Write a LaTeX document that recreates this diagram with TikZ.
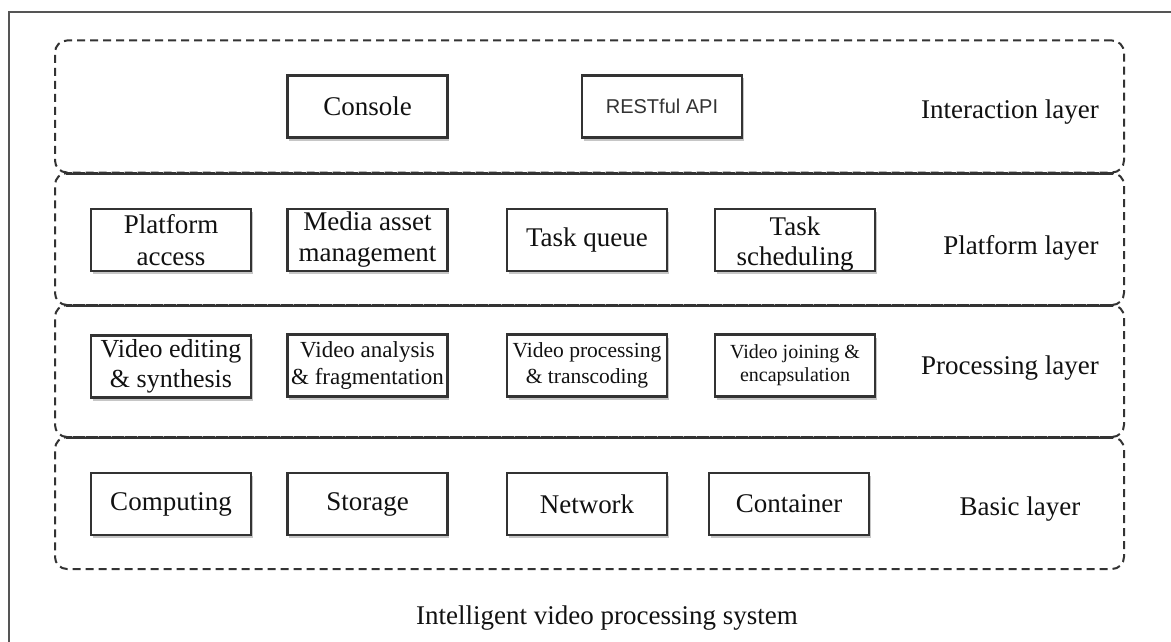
\documentclass[tikz,border=0pt]{standalone}
\usepackage{fontspec}
\setmainfont{Liberation Serif}
\newfontfamily\apifont{Liberation Sans}
\usetikzlibrary{shadows}
\definecolor{mline}{HTML}{333333}
\definecolor{mframe}{HTML}{555555}
\definecolor{mtext}{HTML}{111111}
\tikzstyle{layer} = [rectangle, draw=mline, line width=2pt, dash pattern=on 8pt off 5pt, rounded corners=12pt, minimum width=1069pt, minimum height=132pt, inner sep=0pt]
\tikzstyle{block} = [rectangle, draw=mline, line width=2.4pt, fill=white, minimum width=160pt, minimum height=62pt, inner sep=0pt, align=center, text=mtext, font=\fontsize{27}{32}\selectfont, drop shadow={shadow xshift=1.5pt, shadow yshift=-3pt, opacity=0.45}]
\tikzstyle{tag} = [text=mtext, font=\fontsize{27}{32}\selectfont]
\tikzstyle{seam} = [draw=mline, line width=2pt]

\begin{document}
\begin{tikzpicture}[x=1pt, y=-1pt]
  \useasboundingbox (0,0) rectangle (1171,642);
  \draw [mframe, line width=2pt] (9,642) |- (1171,12);
  % layers
  \node (interaction) [layer] at (589.5,106.5) {};
  \node (platform) [layer] at (589.5,239) {};
  \node (processing) [layer] at (589.5,371) {};
  \node (basic) [layer] at (589.5,503) {};
  \draw [seam] ([xshift=12pt]interaction.south west) -- ([xshift=-12pt]interaction.south east);
  \draw [seam] ([xshift=12pt]platform.south west) -- ([xshift=-12pt]platform.south east);
  \draw [seam] ([xshift=12pt]processing.south west) -- ([xshift=-12pt]processing.south east);
  % interaction layer
  \node (console) [block] at (367.5,106.5) {\raisebox{-3pt}{Console}};
  \node (api) [block, font=\apifont\fontsize{20}{24}\selectfont, text=mline] at (662,106.5) {RESTful API};
  \node (interlbl) [tag] at (1010,112) {Interaction layer};
  % platform layer
  \node (access) [block] at (171,240) {Platform\\access};
  \node (media) [block, font=\fontsize{27}{31}\selectfont] at (367.5,240) {Media asset\\management};
  \node (queue) [block] at (587,240) {Task queue};
  \node (sched) [block] at (795,240) {};
  \node (schedtxt) [tag, align=center, font=\fontsize{27}{30}\selectfont] at (795,244) {Task\\scheduling};
  \node (platlbl) [tag] at (1021,248) {Platform layer};
  % processing layer
  \node (editing) [block, font=\fontsize{26}{30}\selectfont] at (171,366.5) {Video editing\\\& synthesis};
  \node (analysis) [block, font=\fontsize{23}{27}\selectfont] at (367.5,365.5) {Video analysis\\\& fragmentation};
  \node (transcode) [block, font=\fontsize{21.5}{26}\selectfont] at (587,365.5) {Video processing\\\& transcoding};
  \node (joining) [block, font=\fontsize{20}{23}\selectfont] at (795,365.5) {Video joining \&\\encapsulation};
  \node (proclbl) [tag] at (1010,368) {Processing layer};
  % basic layer
  \node (computing) [block] at (171,504) {\raisebox{-2pt}{Computing}};
  \node (storage) [block] at (367.5,504) {\raisebox{-2pt}{Storage}};
  \node (network) [block] at (587,504) {Network};
  \node (container) [block] at (789,504) {Container};
  \node (baselbl) [tag] at (1020,509) {Basic layer};
  \node (system) [tag] at (607,618) {Intelligent video processing system};
\end{tikzpicture}
\end{document}
